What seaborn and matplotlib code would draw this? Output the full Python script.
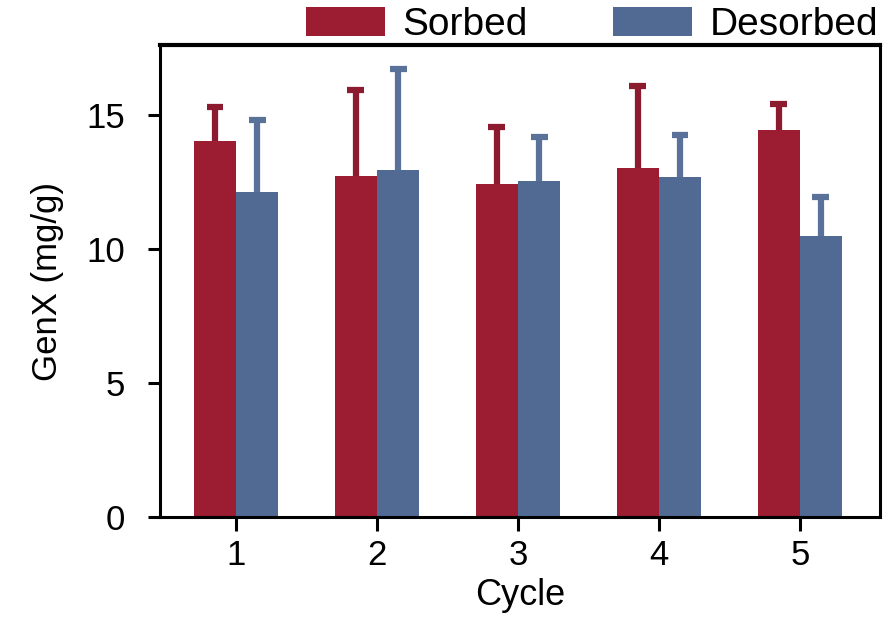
import numpy as np
import pandas as pd
import matplotlib
matplotlib.use("Agg")
import matplotlib.pyplot as plt
import seaborn as sns

# values
cycles = ["1", "2", "3", "4", "5"]
sorbed_mean = [14.03, 12.72, 12.42, 13.01, 14.43]
sorbed_err = [1.28, 3.22, 2.11, 3.05, 0.97]
desorbed_mean = [12.13, 12.94, 12.54, 12.67, 10.49]
desorbed_err = [2.66, 3.78, 1.65, 1.58, 1.46]
groups = ["Sorbed", "Desorbed"]

bar_colors = {"Sorbed": "#9c1c31", "Desorbed": "#516a94"}
err_colors = {"Sorbed": "#8c1b30", "Desorbed": "#5a7199"}

sns.set_theme(style="ticks")
plt.rcParams["font.family"] = ["Liberation Sans", "DejaVu Sans"]
plt.rcParams["text.color"] = "black"
plt.rcParams["axes.labelcolor"] = "black"
plt.rcParams["xtick.color"] = "black"
plt.rcParams["ytick.color"] = "black"

df = pd.DataFrame({
    "Cycle": cycles * 2,
    "value": sorbed_mean + desorbed_mean,
    "group": ["Sorbed"] * len(cycles) + ["Desorbed"] * len(cycles),
})

fig, ax = plt.subplots(figsize=(8.89, 6.18), dpi=100)
fig.subplots_adjust(left=0.18, right=0.99, bottom=0.163, top=0.927)

sns.barplot(data=df, x="Cycle", y="value", hue="group", hue_order=groups,
            palette=bar_colors, width=0.6, errorbar=None, saturation=1,
            linewidth=0, ax=ax)

# upper-only error bars on the bar centres seaborn computed
errs = {"Sorbed": sorbed_err, "Desorbed": desorbed_err}
cap = 0.06
for cont, g in zip(ax.containers, groups):
    xs = np.array([p.get_x() + p.get_width() / 2 for p in cont.patches])
    ys = np.array([p.get_height() for p in cont.patches])
    tops = ys + np.array(errs[g])
    ax.vlines(xs, ys, tops, color=err_colors[g], linewidth=4.5, zorder=1)
    ax.hlines(tops, xs - cap, xs + cap, color=err_colors[g], linewidth=4.5,
              zorder=1)

ax.set_xlim(-0.54, 4.57)
ax.set_ylim(0, 17.6)
ax.set_yticks([0, 5, 10, 15])
ax.set_xlabel("Cycle", fontsize=26, labelpad=4)
ax.set_ylabel("GenX (mg/g)", fontsize=25, labelpad=16)
ax.tick_params(axis="y", labelsize=25, width=2.2, length=9, pad=16)
ax.tick_params(axis="x", labelsize=25, width=2.2, length=10, pad=6)

for side in ["left", "right", "bottom"]:
    ax.spines[side].set_linewidth(2.2)
    ax.spines[side].set_color("black")
ax.spines["top"].set_linewidth(3)
ax.spines["top"].set_color("black")

ax.legend(loc="lower right", bbox_to_anchor=(1.0, 1.0), ncol=2, frameon=False,
          fontsize=28, handlelength=2.03, handleheight=0.75, handletextpad=0.46,
          columnspacing=2.18, borderaxespad=0.05, borderpad=0.0)

plt.savefig("out.png", dpi=100)
